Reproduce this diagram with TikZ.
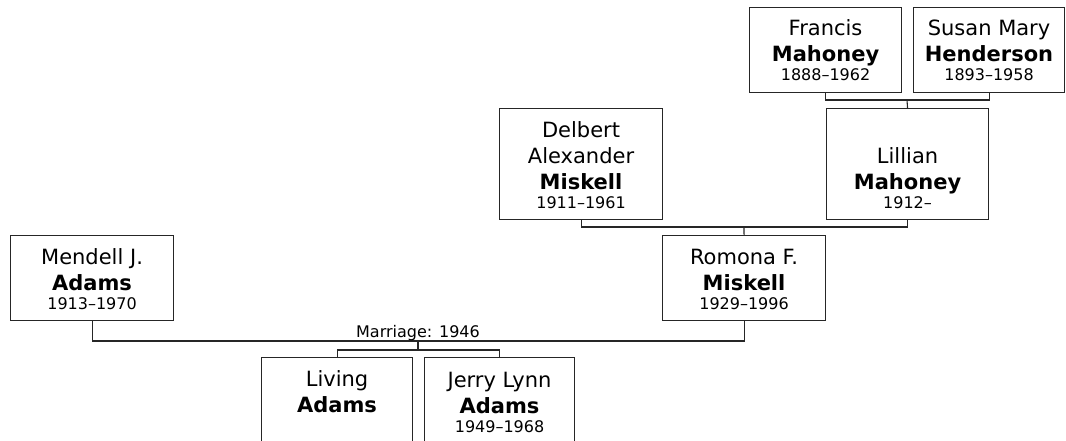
\documentclass[tikz,border=0pt]{standalone}
\usepackage{fontspec}
\setmainfont{DejaVu Sans}
\newcommand{\yrs}[1]{{\fontsize{16}{19}\selectfont #1}}

\begin{document}
\begin{tikzpicture}[x=1pt,y=-1pt,
	person/.style={draw=black!85, line width=1.1pt, anchor=north west, inner sep=0pt,
		align=center, font=\fontsize{21}{26}\selectfont},
	rowtop/.style={text height=74pt, text depth=11pt},
	rowtall/.style={text height=100pt, text depth=11pt},
	link/.style={draw=black!85, line width=1.1pt}]
	\clip (0,0) rectangle (1066,440);
	% grandparents
	\node[person, text height=73pt, text depth=12pt, minimum width=152pt] (francis) at (749,7) {Francis\\ \textbf{Mahoney}\\[-7pt] \yrs{1888–1962}};
	\node[person, text height=73pt, text depth=12pt, minimum width=151pt] (susan) at (913,7) {Susan Mary\\ \textbf{Henderson}\\[-7pt] \yrs{1893–1958}};
	% parents of Romona
	\node[person, rowtall, minimum width=163pt] (delbert) at (499,108) {Delbert\\ Alexander\\ \textbf{Miskell}\\[-7pt] \yrs{1911–1961}};
	\node[person, rowtall, minimum width=162pt] (lillian) at (826,108) {Lillian\\ \textbf{Mahoney}\\[-7pt] \yrs{1912–}};
	% couple
	\node[person, rowtop, minimum width=163pt] (mendell) at (10,235) {Mendell J.\\ \textbf{Adams}\\[-7pt] \yrs{1913–1970}};
	\node[person, rowtop, minimum width=163pt] (romona) at (662,235) {Romona F.\\ \textbf{Miskell}\\[-7pt] \yrs{1929–1996}};
	% children
	\node[person, text height=55pt, text depth=31pt, minimum width=151pt] (living) at (261,357) {Living\\ \textbf{Adams}};
	\node[person, text height=75pt, text depth=11pt, minimum width=150pt] (jerry) at (424,357) {Jerry Lynn\\ \textbf{Adams}\\[-7pt] \yrs{1949–1968}};

	\coordinate (top) at (907,100);
	\coordinate (mid) at (744,227);
	\coordinate (marr) at (418,341);
	\coordinate (kids) at (418,350);

	\draw[link] (francis.south) |- (top) -| (susan.south);
	\draw[link] (top) -- (lillian.north);
	\draw[link] (delbert.south) |- (mid) -| (lillian.south);
	\draw[link] (mid) -- (romona.north);
	\draw[link] (mendell.south) |- (marr) -| (romona.south);
	\draw[link] (marr) -- (kids);
	\draw[link] (living.north) |- (kids) -| (jerry.north);
	\node[anchor=base, inner sep=0pt, font=\fontsize{16}{19}\selectfont] (mlabel) at ([yshift=4pt]marr) {Marriage: 1946};
\end{tikzpicture}
\end{document}
